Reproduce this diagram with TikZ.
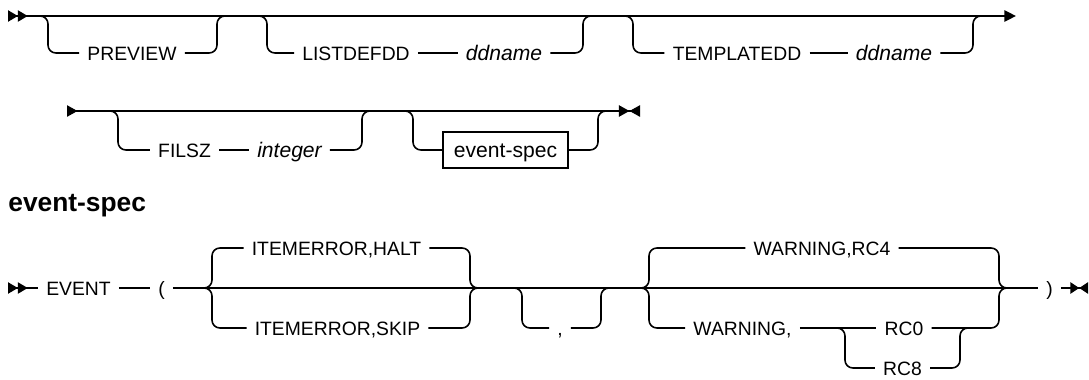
\documentclass[tikz,border=0pt]{standalone}
\usepackage{fontspec}
\setmainfont{Liberation Sans}
\usetikzlibrary{arrows.meta,calc}
\tikzset{
  rail/.style={line width=0.9pt},
  opt/.style={rail, rounded corners=4.5pt},
  kw/.style={font=\fontsize{11}{13}\selectfont, inner xsep=4.5pt, inner ysep=0pt, text height=8pt, text depth=0pt},
  var/.style={kw, font=\fontsize{12}{14}\selectfont\itshape},
  frag/.style={kw, font=\fontsize{12}{14}\selectfont, draw, line width=0.9pt, minimum width=2.5cm, minimum height=0.72cm},
  head/.style={font=\bfseries\fontsize{15}{18}\selectfont, inner sep=0pt, anchor=base west},
  firstline/.style={rail, {Triangle[reversed,length=5.6pt,width=6.4pt]Triangle[reversed,length=5.6pt,width=6.4pt]}-{Triangle[length=6.6pt,width=6.4pt]}},
  midline/.style={rail, {Triangle[reversed,length=6pt,width=6.4pt]}-{Triangle[length=6pt,width=6.4pt]Triangle[reversed,length=6pt,width=6.4pt]}},
  railin/.style={rail, {Triangle[reversed,length=5.6pt,width=6.4pt]Triangle[reversed,length=5.6pt,width=6.4pt]}-},
  railout/.style={rail, -{Triangle[length=5pt,width=6.4pt]Triangle[reversed,length=5pt,width=6.4pt]}}
}

\begin{document}
\begin{tikzpicture}[x=0.02cm, y=-0.02cm]
\useasboundingbox (0,0) rectangle (1089,379);

% first line
\coordinate (r1s) at (8,16);
\coordinate (r1e) at (1016,16);
\draw[firstline] (r1s) -- (r1e);
\coordinate (p1) at (40,16);
\coordinate (q1) at (227,16);
\coordinate (p2) at (259,16);
\coordinate (q2) at (593,16);
\coordinate (p3) at (625,16);
\coordinate (q3) at (983,16);
\node[kw] (preview) at (132,53) {PREVIEW};
\node[kw] (listdef) at (356,53) {LISTDEFDD};
\node[var] (ddn1) at (504,53) {ddname};
\node[kw] (tmpl) at (737,53) {TEMPLATEDD};
\node[var] (ddn2) at (894,53) {ddname};
\draw[opt] (p1) -- ++(8,0) |- (preview.west);
\draw[opt] (preview.east) -| ($(q1)+(-10,0)$) -- (q1);
\draw[opt] (p2) -- ++(8,0) |- (listdef.west);
\draw[rail] (listdef) -- (ddn1);
\draw[opt] (ddn1.east) -| ($(q2)+(-10,0)$) -- (q2);
\draw[opt] (p3) -- ++(8,0) |- (tmpl.west);
\draw[rail] (tmpl) -- (ddn2);
\draw[opt] (ddn2.east) -| ($(q3)+(-10,0)$) -- (q3);

% second line
\coordinate (r2s) at (67,111);
\coordinate (r2e) at (640,111);
\draw[midline] (r2s) -- (r2e);
\coordinate (p4) at (110,111);
\coordinate (q4) at (370,111);
\coordinate (p5) at (405,111);
\coordinate (q5) at (607,111);
\node[kw] (filsz) at (184.5,150) {FILSZ};
\node[var] (int) at (289.5,150) {integer};
\node[frag] (evref) at (505.5,150) {event-spec};
\draw[opt] (p4) -- ++(8,0) |- (filsz.west);
\draw[rail] (filsz) -- (int);
\draw[opt] (int.east) -| ($(q4)+(-8,0)$) -- (q4);
\draw[opt] (p5) -- ++(8,0) |- (evref.west);
\draw[opt] (evref.east) -| ($(q5)+(-9,0)$) -- (q5);

% fragment
\node[head] (evhead) at (8,211) {event-spec};

\coordinate (r3s) at (8,288);
\coordinate (r3e) at (1088,288);
\node[kw] (event) at (78.5,288) {EVENT};
\node[kw] (lpar) at (161.5,288) {(};
\node[kw] (rpar) at (1049.5,288) {)};
\draw[railin] (r3s) -- (event);
\draw[rail] (event) -- (lpar);
\draw[rail] (lpar) -- (rpar);
\draw[railout] (rpar) -- (r3e);

\coordinate (b1) at (204,288);
\coordinate (c1) at (478,288);
\node[kw] (halt) at (336.5,248) {ITEMERROR,HALT};
\node[kw] (skip) at (337.5,328) {ITEMERROR,SKIP};
\draw[opt] (b1) -- ++(8,0) |- (halt.west);
\draw[opt] (b1) -- ++(8,0) |- (skip.west);
\draw[opt] (halt.east) -| ($(c1)+(-8,0)$) -- (c1);
\draw[opt] (skip.east) -| ($(c1)+(-8,0)$) -- (c1);

\coordinate (p6) at (514,288);
\coordinate (q6) at (610,288);
\node[kw] (comma) at (560,328) {,};
\draw[opt] (p6) -- ++(8,0) |- (comma.west);
\draw[opt] (comma.east) -| ($(q6)+(-9,0)$) -- (q6);

\coordinate (b2) at (641,288);
\coordinate (c2) at (1007,288);
\node[kw] (rc4) at (822,248) {WARNING,RC4};
\node[kw] (warn) at (742.5,328) {WARNING,};
\node[kw] (rc0) at (904,328) {RC0};
\node[kw] (rc8) at (902.5,368) {RC8};
\draw[opt] (b2) -- ++(8,0) |- (rc4.west);
\draw[opt] (b2) -- ++(8,0) |- (warn.west);
\draw[opt] (rc4.east) -| ($(c2)+(-8,0)$) -- (c2);
\draw[rail] (warn) -- (rc0);
\draw[opt] (rc0.east) -| ($(c2)+(-8,0)$) -- (c2);
\coordinate (p7) at (837,328);
\coordinate (q7) at (968,328);
\draw[opt] (p7) -- ++(8,0) |- (rc8.west);
\draw[opt] (rc8.east) -| ($(q7)+(-8,0)$) -- (q7);
\end{tikzpicture}
\end{document}
